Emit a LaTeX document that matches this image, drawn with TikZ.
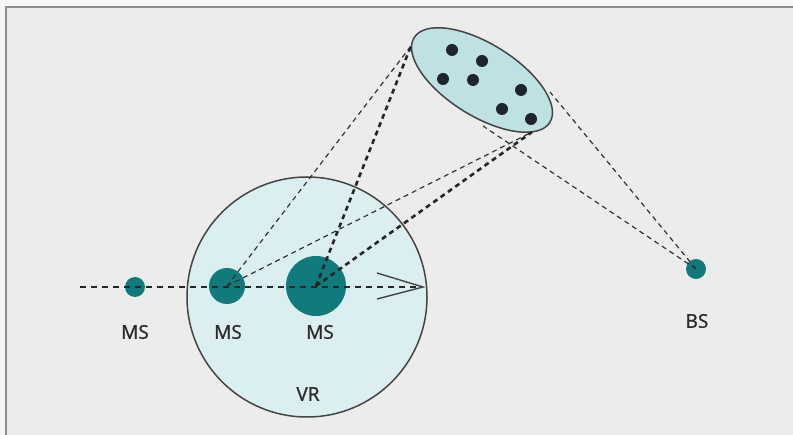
\documentclass[tikz,border=0pt]{standalone}
\usepackage{fontspec}
\setmainfont{Open Sans}[FakeBold=1.2]
\usetikzlibrary{shapes.geometric}
\definecolor{bgc}{HTML}{ECECEC}
\definecolor{outc}{HTML}{F6F6F6}
\definecolor{framec}{HTML}{8C8C8C}
\definecolor{tealc}{HTML}{117A7D}
\definecolor{vrfill}{HTML}{DCEFF0}
\definecolor{elfill}{HTML}{BEE2E4}
\definecolor{linec}{HTML}{444444}
\definecolor{dotc}{HTML}{1F2430}
\definecolor{txtc}{HTML}{2A2A2A}
\tikzset{
  station/.style={circle, fill=tealc, inner sep=0pt, minimum size=#1},
  member/.style={circle, fill=dotc, inner sep=0pt, minimum size=12pt},
  lbl/.style={font=\fontsize{19}{22}\selectfont, text=txtc, inner sep=0pt},
  thinlink/.style={dash pattern=on 5pt off 4pt, line width=1.2pt, draw=black!80},
  thicklink/.style={dash pattern=on 5pt off 4pt, line width=2.6pt, draw=black!85},
  track/.style={dash pattern=on 6pt off 5pt, line width=1.2pt, draw=black!85},
}
\begin{document}
\begin{tikzpicture}[x=1pt,y=-1pt]
  \useasboundingbox (0,0) rectangle (793,435);
  \fill[outc] (0,0) rectangle (793,435);
  \fill[bgc] (6,7) rectangle (793,435);
  \draw[framec, line width=2.2pt] (6,435) -- (6,7) -- (793,7);

  % VR circle
  \node[circle, draw=linec, line width=1.5pt, fill=vrfill, minimum size=240pt, inner sep=0pt] (vr) at (307,297) {};

  % cluster ellipse
  \node[ellipse, draw=linec, line width=1.5pt, fill=elfill, minimum width=160pt, minimum height=72pt, inner sep=0pt, rotate=-32] (cl) at (482,80) {};
  \foreach \i/\p in {1/{(452,50)},2/{(482,61)},3/{(443,79)},4/{(473,80)},5/{(521,90)},6/{(502,109)},7/{(531,119)}}
    \node[member] (d\i) at \p {};

  % stations
  \node[station=20pt] (ms1) at (135,287) {};
  \node[station=36pt] (ms2) at (227,286) {};
  \node[station=60pt] (ms3) at (316,286) {};
  \node[station=20pt] (bs) at (696,269) {};

  % tangent points on the cluster
  \coordinate (ea) at (411,46);
  \coordinate (eb) at (532,132);
  \coordinate (ec) at (550,92);
  \coordinate (ed) at (483,126);

  % track and direction arrow
  \coordinate (trs) at (80,287);
  \coordinate (tre) at (423,287);
  \coordinate (aw1) at (377,273);
  \coordinate (aw2) at (377,299);
  \draw[track] (trs) -- (tre);
  \draw[linec, line width=1.4pt] (aw1) -- (tre) -- (aw2);

  % links
  \draw[thinlink] (ms2.center) -- (ea);
  \draw[thinlink] (ms2.center) -- (eb);
  \draw[thicklink] (ms3.center) -- (ea);
  \draw[thicklink] (ms3.center) -- (eb);
  \draw[thinlink] (bs.center) -- (ec);
  \draw[thinlink] (bs.center) -- (ed);

  % labels
  \node[lbl] (l1) at (135,332) {MS};
  \node[lbl] (l2) at (228,332) {MS};
  \node[lbl] (l3) at (320,332) {MS};
  \node[lbl] (l4) at (697,321) {BS};
  \node[lbl] (l5) at (308,394) {VR};
\end{tikzpicture}
\end{document}
